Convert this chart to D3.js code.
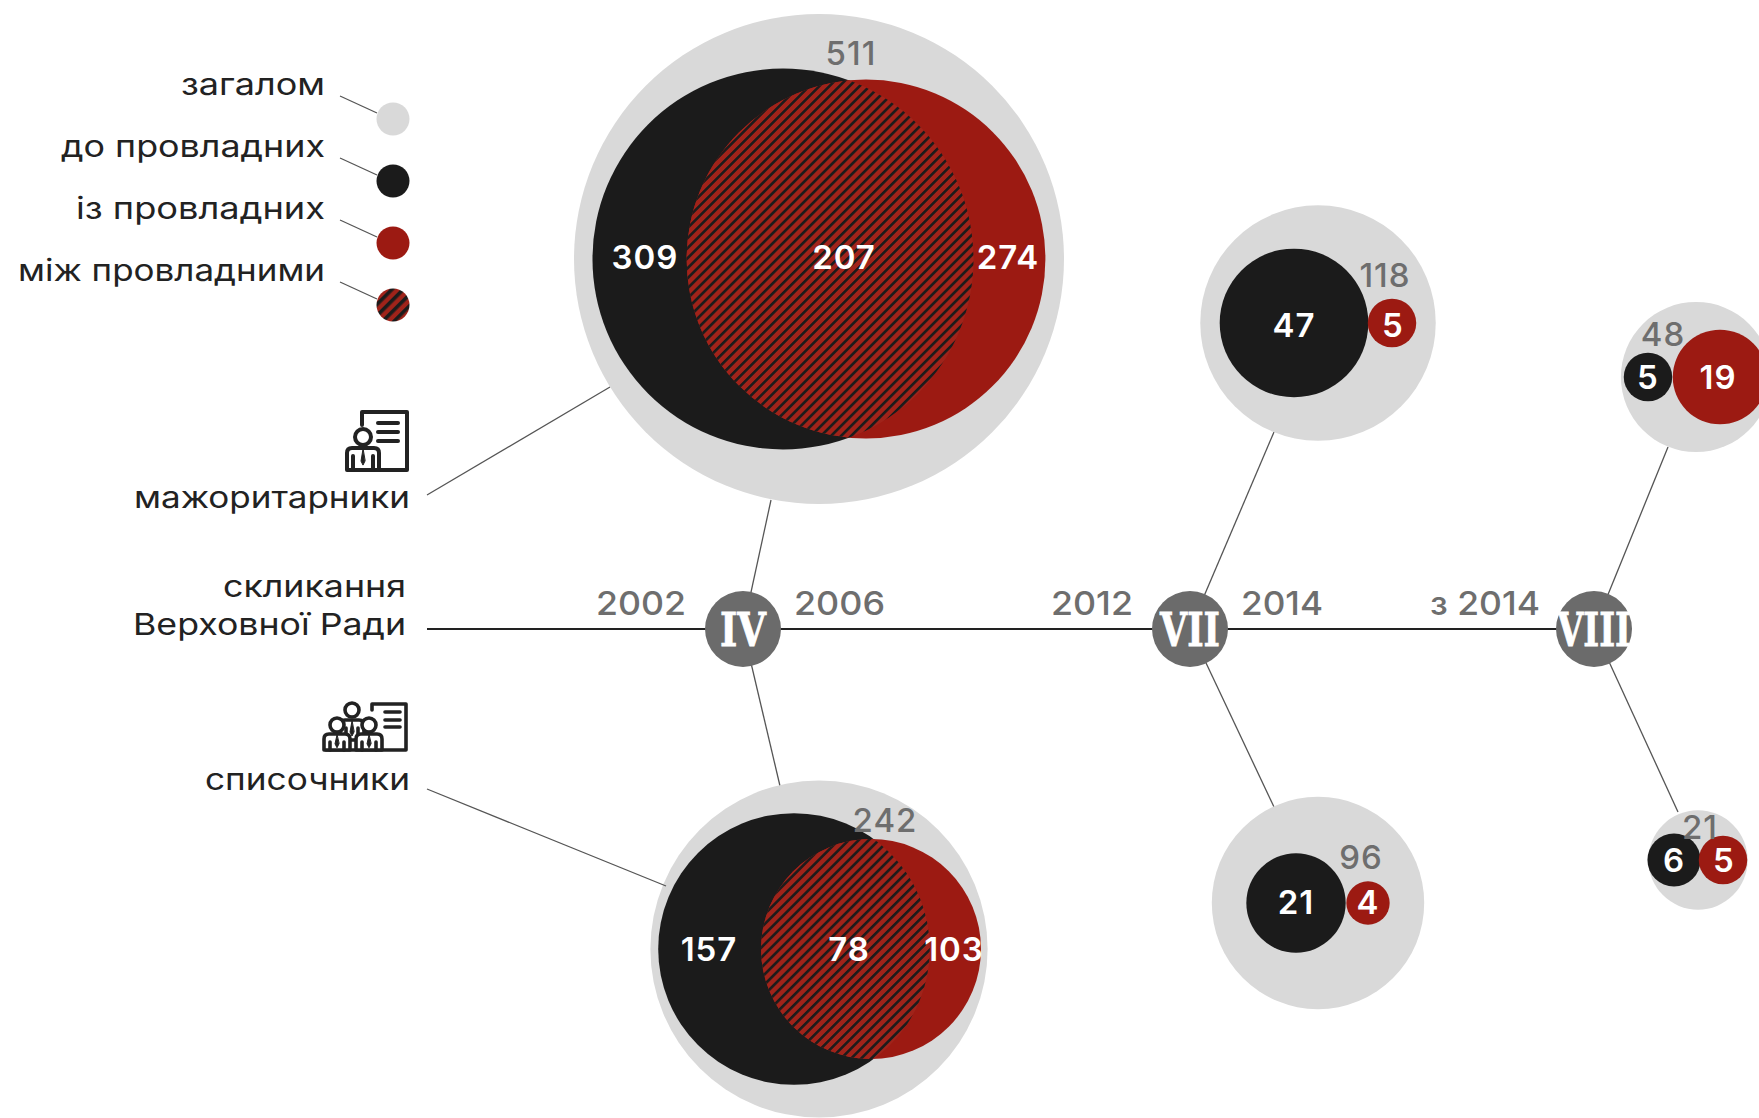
<!DOCTYPE html>
<html><head><meta charset="utf-8">
<style>html,body{margin:0;padding:0;background:#fff}svg{display:block}</style>
<script src="https://cdn.jsdelivr.net/npm/d3@7"></script></head><body>
<script>
// ---- data ----
const convocations = ["IV", "VII", "VIII"];
const startLabels = ["2002", "2012", "з 2014"];
const endLabels = ["2006", "2014", ""];
const majTotal = [511, 118, 48];
const majTo = [309, 47, 5];
const majFrom = [274, 5, 19];
const majBetween = [207, 0, 0];
const listTotal = [242, 96, 21];
const listTo = [157, 21, 6];
const listFrom = [103, 4, 5];
const listBetween = [78, 0, 0];
const legendLabels = ["загалом", "до провладних", "із провладних", "між провладними"];

// ---- layout (pixels of the frame) ----
const W = 1759, H = 1118, axisY = 629;
const nodeX = [743, 1190, 1594];
const majY = [259, 323, 377], listY = [949, 903, 860];
const majGrayX = [819, 1318, 1696], majToX = [783, 1294, 1648], majFromX = [866, 1392, 1720];
const listGrayX = [819, 1318, 1698], listToX = [794, 1296, 1674], listFromX = [871, 1368, 1723];
const majNumX = [[645, 844, 1008], [1294, 0, 1393], [1648, 0, 1718]];
const listNumX = [[709, 849, 954], [1296, 0, 1368], [1674, 0, 1724]];
const numY = [[257, 325, 377], [949, 902, 860]];
const majLabelPos = [[851,53],[1385,275],[1663,334]];
const listLabelPos = [[885,820],[1361,857],[1700,827]];
const majLeaderEnd = [[771,500],[1274,432],[1668,447]];
const listLeaderEnd = [[780,786],[1274,807],[1678,812]];
const startLen = [90, 82, 110], endLen = [91, 82, 0], startGap = [57, 57, 54];
const legendLen = [144, 264, 249, 307];

const colGray = "#d9d9d9", colBlack = "#1b1b1b", colRed = "#9c1a12", colHatchBg = "#a0231a", colNode = "#6b6b6b", colText = "#222", colMuted = "#6e6e6e";
const sans = "Inter,'Noto Sans',sans-serif";

const r = d3.scaleSqrt().domain([0, 511]).range([0, 245]);

const svg = d3.select("body").append("svg").attr("width", W).attr("height", H).attr("viewBox", `0 0 ${W} ${H}`);
const defs = svg.append("defs");
const pat = defs.append("pattern").attr("id", "hatch").attr("patternUnits", "userSpaceOnUse")
  .attr("width", 7.1).attr("height", 7.1).attr("patternTransform", "rotate(45)");
pat.append("rect").attr("width", 7.1).attr("height", 7.1).attr("fill", colHatchBg);
pat.append("rect").attr("x", 0).attr("width", 2.6).attr("height", 7.1).attr("fill", colBlack);

function text(g, x, y, s, o = {}) {
  const t = g.append("text").attr("x", x).attr("y", y).text(s)
    .attr("font-family", o.family || sans).attr("font-size", o.size || 30)
    .attr("font-weight", o.weight || 400).attr("fill", o.fill || colText)
    .attr("text-anchor", o.anchor || "middle").attr("letter-spacing", o.spacing || 0);
  if (o.len) t.attr("textLength", o.len).attr("lengthAdjust", "spacingAndGlyphs");
  return t;
}
function leader(x1, y1, x2, y2, w = 1.3, c = "#555") {
  svg.append("line").attr("x1", x1).attr("y1", y1).attr("x2", x2).attr("y2", y2).attr("stroke", c).attr("stroke-width", w);
}

// ---- timeline ----
leader(427, axisY, nodeX[2] - 30, axisY, 2.2, "#222");
nodeX.forEach((x, i) => {
  leader(x, axisY, majLeaderEnd[i][0], majLeaderEnd[i][1]);
  leader(x, axisY, listLeaderEnd[i][0], listLeaderEnd[i][1]);
});

// ---- bubbles ----
const numStyle = {fill: "#fff", size: 33, weight: 600, spacing: 1};
function bubbles(total, to, from, between, y, gx, tx, fx, lab, numX, nY, key) {
  total.forEach((v, i) => {
    const g = svg.append("g");
    g.append("circle").attr("cx", gx[i]).attr("cy", y[i]).attr("r", r(v)).attr("fill", colGray);
    g.append("circle").attr("cx", tx[i]).attr("cy", y[i]).attr("r", r(to[i])).attr("fill", colBlack);
    g.append("circle").attr("cx", fx[i]).attr("cy", y[i]).attr("r", r(from[i])).attr("fill", colRed);
    if (between[i] > 0) {
      const id = `clip-${key}-${i}`;
      defs.append("clipPath").attr("id", id).append("circle").attr("cx", tx[i]).attr("cy", y[i]).attr("r", r(to[i]));
      g.append("circle").attr("cx", fx[i]).attr("cy", y[i]).attr("r", r(from[i]))
        .attr("fill", "url(#hatch)").attr("clip-path", `url(#${id})`);
      text(g, numX[i][1], nY[i] + 12, between[i], numStyle);
    }
    text(g, numX[i][0], nY[i] + 12, to[i], numStyle);
    text(g, numX[i][2], nY[i] + 12, from[i], numStyle);
    text(g, lab[i][0], lab[i][1] + 12, v, {fill: colMuted, size: 33, spacing: 1, weight: 500});
  });
}
bubbles(majTotal, majTo, majFrom, majBetween, majY, majGrayX, majToX, majFromX, majLabelPos, majNumX, numY[0], "m");
bubbles(listTotal, listTo, listFrom, listBetween, listY, listGrayX, listToX, listFromX, listLabelPos, listNumX, numY[1], "l");

// ---- nodes ----
nodeX.forEach((x, i) => {
  svg.append("circle").attr("cx", x).attr("cy", axisY).attr("r", 38).attr("fill", colNode);
  const t = text(svg, x, axisY + 17, convocations[i], {family: "'DejaVu Serif',serif", weight: 700, size: 47, fill: "#fff", len: [46, 60, 74][i]});
  t.attr("stroke", "#fff").attr("stroke-width", 0.8);
  if (startLabels[i]) text(svg, x - startGap[i], 615, startLabels[i], {fill: colMuted, size: 33, anchor: "end", len: startLen[i], weight: 500});
  if (endLabels[i]) text(svg, x + 51, 615, endLabels[i], {fill: colMuted, size: 33, anchor: "start", len: endLen[i], weight: 500});
});

// ---- legend ----
const legendY = [119, 181, 243, 305];
const legendFill = [colGray, colBlack, colRed, "url(#legendHatch)"];
const lp = defs.append("pattern").attr("id", "legendHatch").attr("patternUnits", "userSpaceOnUse")
  .attr("width", 8).attr("height", 8).attr("patternTransform", "rotate(45)");
lp.append("rect").attr("width", 8).attr("height", 8).attr("fill", colHatchBg);
lp.append("rect").attr("width", 3.6).attr("height", 8).attr("fill", colBlack);
legendLabels.forEach((s, i) => {
  text(svg, 325, legendY[i] - 24, s, {anchor: "end", size: 30, len: legendLen[i]});
  leader(340, legendY[i] - 23, 377, legendY[i] - 6);
  svg.append("circle").attr("cx", 393).attr("cy", legendY[i]).attr("r", 16.5).attr("fill", legendFill[i]);
});

// ---- side labels ----
text(svg, 410, 508, "мажоритарники", {anchor: "end", size: 30, len: 276});
text(svg, 406, 597, "скликання", {anchor: "end", size: 30, len: 183});
text(svg, 406, 635, "Верховної Ради", {anchor: "end", size: 30, len: 273});
text(svg, 410, 790, "списочники", {anchor: "end", size: 30, len: 205});
leader(427, 495, 610, 387);
leader(427, 789, 666, 886);

// ---- icons ----
function person(g, cx, headY, headR, bodyTop, bottom, half) {
  g.append("circle").attr("cx", cx).attr("cy", headY).attr("r", headR);
  g.append("path").attr("d", `M${cx - half},${bottom} v${bodyTop - bottom + 5} q0,-5 5,-5 h${2 * half - 10} q5,0 5,5 V${bottom} Z`);
  g.append("path").attr("d", `M${cx},${bodyTop + 1} l-2,${(bottom - bodyTop) * 0.55} l2,4 l2,-4 Z`).attr("fill", "#222").attr("stroke-width", 1);
  g.append("line").attr("x1", cx - half + 6).attr("x2", cx - half + 6).attr("y1", bodyTop + 8).attr("y2", bottom);
  g.append("line").attr("x1", cx + half - 6).attr("x2", cx + half - 6).attr("y1", bodyTop + 8).attr("y2", bottom);
}
const ic1 = svg.append("g").attr("fill", "#fff").attr("stroke", "#222").attr("stroke-width", 4).attr("stroke-linejoin", "round").attr("stroke-linecap", "round");
ic1.append("path").attr("d", "M362,425 V412 H407 V470 H350");
[423, 432, 441].forEach(y => ic1.append("line").attr("x1", 378).attr("x2", 398).attr("y1", y).attr("y2", y));
person(ic1, 363, 437, 8, 448, 470, 16);
const ic2 = svg.append("g").attr("fill", "#fff").attr("stroke", "#222").attr("stroke-width", 3.6).attr("stroke-linejoin", "round").attr("stroke-linecap", "round");
ic2.append("path").attr("d", "M372,710 V704 H406 V750 H326");
[712, 720, 727].forEach(y => ic2.append("line").attr("x1", 385).attr("x2", 400).attr("y1", y).attr("y2", y));
person(ic2, 352, 710, 7, 720, 740, 12);
person(ic2, 337, 725, 7, 734, 750, 13);
person(ic2, 369, 725, 7, 734, 750, 13);
</script></body></html>
